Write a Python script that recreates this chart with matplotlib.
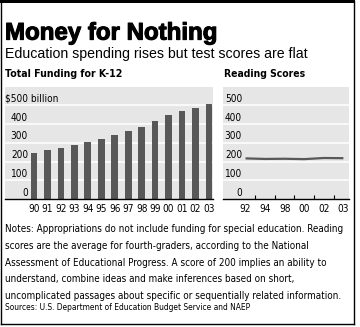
import os
import math
import matplotlib
matplotlib.use('Agg')
import matplotlib.pyplot as plt
from matplotlib import font_manager
from matplotlib.font_manager import FontProperties
from matplotlib.textpath import TextPath
from matplotlib import patheffects
from matplotlib.transforms import offset_copy
from matplotlib.lines import Line2D
from matplotlib.patches import Rectangle

# ---------------- data ----------------
funding_years = ['90', '91', '92', '93', '94', '95', '96', '97', '98', '99',
                 '00', '01', '02', '03']
funding_values = [244, 260, 273, 287, 303, 319, 341, 365, 387, 415, 448, 469, 488, 508]

score_years = ['92', '94', '98', '00', '02', '03']
score_values = [217, 214, 215, 213, 219, 218]

y_ticks = [0, 100, 200, 300, 400, 500]
funding_tick_labels = ['0', '100', '200', '300', '400', '$500 billion']
score_tick_labels = ['0', '100', '200', '300', '400', '500']

title = 'Money for Nothing'
subtitle = 'Education spending rises but test scores are flat'
left_title = 'Total Funding for K-12'
right_title = 'Reading Scores'
notes = ['Notes: Appropriations do not include funding for special education. Reading',
         'scores are the average for fourth-graders, according to the National',
         'Assessment of Educational Progress. A score of 200 implies an ability to',
         'understand, combine ideas and make inferences based on short,',
         'uncomplicated passages about specific or sequentially related information.']
sources = 'Sources: U.S. Department of Education Budget Service and NAEP'

# ---------------- fonts (picked by file) ----------------
FILES = {os.path.basename(f.fname): f.fname for f in font_manager.fontManager.ttflist}


def pick(candidates):
    for c in candidates:
        if c in FILES:
            return FILES[c]
    return None


F_REG = pick(['LiberationSans-Regular.ttf', 'Arimo-Regular.ttf'])
F_TITLE = pick(['NotoSans-SemiCondensedBlack.ttf', 'NotoSans-SemiCondensedExtraBold.ttf',
                'LiberationSans-Bold.ttf'])
F_NARROW = pick(['LiberationSansNarrow-Regular.ttf', 'NotoSans-Condensed.ttf',
                 'NotoSans-CondensedRegular.ttf', 'NotoSans-SemiCondensed.ttf',
                 'DejaVuSansCondensed.ttf'])
F_NARROW_B = pick(['LiberationSansNarrow-Bold.ttf', 'NotoSans-CondensedBold.ttf',
                   'NotoSans-SemiCondensedBold.ttf', 'DejaVuSansCondensed-Bold.ttf'])


def fp(fname, size, bold=False):
    if fname:
        p = FontProperties(fname=fname)
    else:
        p = FontProperties(family='DejaVu Sans', weight='bold' if bold else 'normal')
    p.set_size(size)
    return p


def cap_em(fname, bold=False):
    p = fp(fname, 100, bold)
    return TextPath((0, 0), 'H', prop=p).get_extents().height / 100.0


title_stroke = F_TITLE is not None and 'Liberation' in F_TITLE

BAR = '#585858'
BG = '#e6e6e6'

W, H = 360, 327
fig = plt.figure(figsize=(W / 100, H / 100), dpi=100)


def fx(px):
    return px / W


def fy(py):
    return 1 - py / H


renderer = fig.canvas.get_renderer()


def fit(t, fname, target_w, target_cap, max_w, bold=False):
    s0 = t.get_fontsize()
    w = t.get_window_extent(renderer).width
    s_w = s0 * target_w / w
    s_h = target_cap * 0.72 / cap_em(fname, bold)
    s = min(math.sqrt(s_w * s_h), s0 * max_w / w)
    t.set_fontsize(s)
    return s


# ---------------- frame ----------------
fig.add_artist(Rectangle((0, fy(3)), fx(355), 3 / H, transform=fig.transFigure,
                         color='black', lw=0))
for x0 in (1, 354):
    fig.add_artist(Line2D([fx(x0), fx(x0)], [fy(1), fy(323.5)], transform=fig.transFigure,
                          color='black', lw=1.0))
fig.add_artist(Line2D([fx(1), fx(354)], [fy(323.5), fy(323.5)], transform=fig.transFigure,
                      color='black', lw=1.0))

# ---------------- headings ----------------
kw = {}
if title_stroke:
    kw['path_effects'] = [patheffects.withStroke(linewidth=0.8, foreground='black')]
t = fig.text(fx(5), fy(39.6), title, fontproperties=fp(F_TITLE, 17, True),
             va='baseline', ha='left', **kw)
fit(t, F_TITLE, 216, 16.3, 228, True)
t = fig.text(fx(5), fy(57.6), subtitle, fontproperties=fp(F_REG, 9.5),
             va='baseline', ha='left')
fit(t, F_REG, 320, 9.2, 335)
t = fig.text(fx(5), fy(77.3), left_title, fontproperties=fp(F_NARROW_B, 8.5, True),
             va='baseline', ha='left')
fit(t, F_NARROW_B, 112, 8, 118, True)
t = fig.text(fx(224.5), fy(77.3), right_title, fontproperties=fp(F_NARROW_B, 8.5, True),
             va='baseline', ha='left')
fit(t, F_NARROW_B, 78, 8, 84, True)

# ---------------- axes ----------------
top, bottom = 86.7, 199
axL = fig.add_axes([fx(5), fy(bottom), fx(213) - fx(5), (bottom - top) / H])
axR = fig.add_axes([fx(223), fy(bottom), fx(348.5) - fx(223), (bottom - top) / H])

TICK_FS = 7.3 * 0.72 / cap_em(F_NARROW)

for ax in (axL, axR):
    ax.set_facecolor(BG)
    ax.set_ylim(0, 600)
    for s in ('top', 'right', 'left'):
        ax.spines[s].set_visible(False)
    ax.spines['bottom'].set_color('black')
    ax.spines['bottom'].set_linewidth(1.0)
    ax.spines['bottom'].set_zorder(5)
    ax.set_yticks([])
    for v in y_ticks[1:]:
        ax.axhline(v, color='white', lw=1.1, zorder=1)

# left: bars
xL = list(range(len(funding_years)))
axL.bar(xL, funding_values, width=0.5, color=BAR, zorder=3)
axL.set_xlim(-2.15, 13.3)
axL.set_xticks(xL)
axL.set_xticklabels(funding_years)
for lab in axL.get_xticklabels():
    lab.set_fontproperties(fp(F_NARROW, TICK_FS))
axL.tick_params(axis='x', length=0, pad=3.5)

ytr = offset_copy(axL.get_yaxis_transform(), fig=fig, x=0, y=1.5, units='dots')
axL.text(0, y_ticks[-1], funding_tick_labels[-1], transform=ytr, ha='left',
         va='bottom', fontproperties=fp(F_NARROW, TICK_FS), zorder=4)
head = axL.text(0, 0, funding_tick_labels[-1].split(' ')[0],
                fontproperties=fp(F_NARROW, TICK_FS))
num_right = head.get_window_extent(renderer).width / 208
head.remove()
for v, lab in zip(y_ticks[:-1], funding_tick_labels[:-1]):
    axL.text(num_right, v, lab, transform=ytr, ha='right', va='bottom',
             fontproperties=fp(F_NARROW, TICK_FS), zorder=4)

# right: line
xR = list(range(len(score_years)))
axR.plot(xR, score_values, color=BAR, lw=1.6, zorder=3, solid_capstyle='butt')
axR.set_xlim(-1.15, 5.26)
axR.set_xticks(xR)
axR.set_xticklabels(score_years)
for lab in axR.get_xticklabels():
    lab.set_fontproperties(fp(F_NARROW, TICK_FS))
axR.set_xticks([i + 0.5 for i in xR[:-1]], minor=True)
axR.tick_params(axis='x', which='major', length=0, pad=3.5)
axR.tick_params(axis='x', which='minor', length=3, width=0.8, direction='in', color='black')

ytr2 = offset_copy(axR.get_yaxis_transform(), fig=fig, x=0, y=1.5, units='dots')
for v, lab in zip(y_ticks, score_tick_labels):
    axR.text((242 - 223) / 125.5, v, lab, transform=ytr2, ha='right', va='bottom',
             fontproperties=fp(F_NARROW, TICK_FS), zorder=4)

# ---------------- notes ----------------
texts = []
for i, line in enumerate(notes):
    texts.append(fig.text(fx(5), fy(232.3 + i * 16.7), line, va='baseline', ha='left',
                          fontproperties=fp(F_NARROW, 8)))
fs = fit(texts[0], F_NARROW, 336, 7.7, 338)
for t in texts[1:]:
    t.set_fontsize(fs)
t = fig.text(fx(5), fy(310), sources, va='baseline', ha='left',
             fontproperties=fp(F_NARROW, 6.5))
fit(t, F_NARROW, 240, 6.5, 248)

fig.savefig('out.png', dpi=100, facecolor='white')
